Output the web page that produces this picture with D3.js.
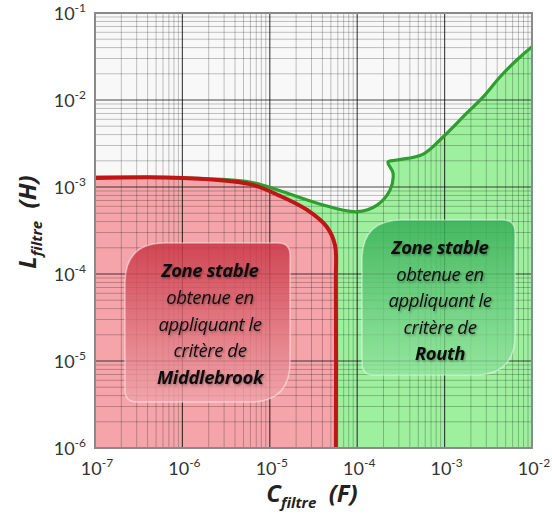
<!DOCTYPE html>
<html><head><meta charset="utf-8">
<script src="https://cdn.jsdelivr.net/npm/d3@7"></script>
<style>body{margin:0;background:#fff}svg{display:block}</style>
</head><body>
<svg id="c" width="552" height="520"></svg>
<script>
// ---- data ----
const xTickExps = [-7, -6, -5, -4, -3, -2];
const yTickExps = [-6, -5, -4, -3, -2, -1];
// Routh stability boundary (green)
const routhC = [1e-7, 1e-6, 5.9e-6, 1.42e-5, 3.5e-5, 1.0e-4, 1.69e-4, 2.37e-4, 2.57e-4, 2.25e-4, 2.85e-4, 5.7e-4, 9.6e-4, 1.8e-3, 2.75e-3, 4.3e-3, 6.7e-3, 1e-2];
const routhL = [1.30e-3, 1.27e-3, 1.14e-3, 8.8e-4, 6.5e-4, 5.2e-4, 6.2e-4, 9.2e-4, 1.45e-3, 1.94e-3, 2.04e-3, 2.39e-3, 3.76e-3, 7.1e-3, 1.08e-2, 1.84e-2, 2.88e-2, 4.1e-2];
// Middlebrook stability boundary (red)
const midC = [1e-7, 1e-6, 5.9e-6, 1.31e-5, 2.67e-5, 4.5e-5, 5.57e-5, 5.7e-5, 5.7e-5];
const midL = [1.27e-3, 1.27e-3, 1.08e-3, 7.9e-4, 5.45e-4, 3.47e-4, 2.15e-4, 8.5e-5, 1e-6];
const midText = [["Zone stable", "bi"], ["obtenue en", "i"], ["appliquant le", "i"], ["critère de", "i"], ["Middlebrook", "bi"]];
const routhText = [["Zone stable", "bi"], ["obtenue en", "i"], ["appliquant le", "i"], ["critère de", "i"], ["Routh", "bi"]];

// ---- layout ----
const L = 95, R = 532, T = 13, B = 448;
const svg = d3.select("#c");
const x = d3.scaleLog().domain([1e-7, 1e-2]).range([L, R]);
const y = d3.scaleLog().domain([1e-6, 1e-1]).range([B, T]);
const font = "'Open Sans', 'Noto Sans', sans-serif";
const tickFont = "Lato, 'Open Sans', sans-serif";

const defs = svg.append("defs");
defs.append("clipPath").attr("id", "clip").append("rect").attr("x", L).attr("y", T).attr("width", R - L).attr("height", B - T);
const gr = defs.append("linearGradient").attr("id", "gRed").attr("x1", 0).attr("y1", 0).attr("x2", 0).attr("y2", 1);
gr.append("stop").attr("offset", 0).attr("stop-color", "#c93444").attr("stop-opacity", 0.85);
gr.append("stop").attr("offset", 1).attr("stop-color", "#f0a4aa").attr("stop-opacity", 0.75);
const gg = defs.append("linearGradient").attr("id", "gGreen").attr("x1", 0).attr("y1", 0).attr("x2", 0).attr("y2", 1);
gg.append("stop").attr("offset", 0).attr("stop-color", "#35ad55").attr("stop-opacity", 0.85);
gg.append("stop").attr("offset", 1).attr("stop-color", "#8fe39c").attr("stop-opacity", 0.75);
const sh = defs.append("filter").attr("id", "tsh").attr("x", "-10%").attr("y", "-20%").attr("width", "130%").attr("height", "150%");
sh.append("feDropShadow").attr("dx", 1).attr("dy", 1.5).attr("stdDeviation", 1).attr("flood-color", "#000").attr("flood-opacity", 0.35);

const plot = svg.append("g").attr("clip-path", "url(#clip)");
plot.append("rect").attr("x", L).attr("y", T).attr("width", R - L).attr("height", B - T).attr("fill", "#f8f8f8");

const routh = routhC.map((c, i) => [c, routhL[i]]);
const mid = midC.map((c, i) => [c, midL[i]]);
const line = d3.line().x(d => x(d[0])).y(d => y(d[1])).curve(d3.curveCatmullRom.alpha(0.5));

// fills
plot.append("path").attr("d", line(routh) + `L${x(1e-2)},${y(1e-6)}L${x(1e-7)},${y(1e-6)}Z`).attr("fill", "#9ef09f");
plot.append("path").attr("d", line(mid) + `L${x(1e-7)},${y(1e-6)}Z`).attr("fill", "#f5a5a9");

// grid
const minorX = [];
for (let e = -7; e < -2; e++) for (let k = 2; k <= 9; k++) minorX.push(k * Math.pow(10, e));
const minorY = [];
for (let e = -6; e < -1; e++) for (let k = 2; k <= 9; k++) minorY.push(k * Math.pow(10, e));
const grid = svg.append("g");
grid.selectAll(".mx").data(minorX).join("line").attr("x1", d => x(d)).attr("x2", d => x(d)).attr("y1", T).attr("y2", B)
  .attr("stroke", "#000").attr("stroke-opacity", 0.24).attr("stroke-width", 1);
grid.selectAll(".my").data(minorY).join("line").attr("y1", d => y(d)).attr("y2", d => y(d)).attr("x1", L).attr("x2", R)
  .attr("stroke", "#000").attr("stroke-opacity", 0.24).attr("stroke-width", 1);
grid.selectAll(".Mx").data(xTickExps).join("line").attr("x1", d => x(Math.pow(10, d))).attr("x2", d => x(Math.pow(10, d))).attr("y1", T).attr("y2", B)
  .attr("stroke", "#000").attr("stroke-opacity", 0.7).attr("stroke-width", 1.2);
grid.selectAll(".My").data(yTickExps).join("line").attr("y1", d => y(Math.pow(10, d))).attr("y2", d => y(Math.pow(10, d))).attr("x1", L).attr("x2", R)
  .attr("stroke", "#000").attr("stroke-opacity", 0.7).attr("stroke-width", 1.2);

// curves
const curves = svg.append("g").attr("clip-path", "url(#clip)");
curves.append("path").attr("d", line(routh)).attr("fill", "none").attr("stroke", "#2e9e2e").attr("stroke-width", 3.2).attr("stroke-linejoin", "round");
curves.append("path").attr("d", line(mid)).attr("fill", "none").attr("stroke", "#c01515").attr("stroke-width", 4).attr("stroke-linejoin", "round");

// frame
svg.append("rect").attr("x", L).attr("y", T).attr("width", R - L).attr("height", B - T).attr("fill", "none").attr("stroke", "#8a8a8a").attr("stroke-width", 2);

// boxes
function box(x0, y0, w, h, rBig, rSmall) {
  const p = d3.path();
  p.moveTo(x0 + rBig, y0);
  p.lineTo(x0 + w - rSmall, y0);
  p.quadraticCurveTo(x0 + w, y0, x0 + w, y0 + rSmall);
  p.lineTo(x0 + w, y0 + h - rBig);
  p.quadraticCurveTo(x0 + w, y0 + h, x0 + w - rBig, y0 + h);
  p.lineTo(x0 + rSmall, y0 + h);
  p.quadraticCurveTo(x0, y0 + h, x0, y0 + h - rSmall);
  p.lineTo(x0, y0 + rBig);
  p.quadraticCurveTo(x0, y0, x0 + rBig, y0);
  p.closePath();
  return p.toString();
}
function drawBox(x0, y0, w, h, grad, lines, cx, ty, dy) {
  svg.append("path").attr("d", box(x0, y0, w, h, 40, 12)).attr("fill", `url(#${grad})`)
    .attr("stroke", "#fff").attr("stroke-opacity", 0.45).attr("stroke-width", 1.5);
  const t = svg.append("g").attr("filter", "url(#tsh)");
  lines.forEach((l, i) => {
    t.append("text").attr("x", cx).attr("y", ty + i * dy).attr("text-anchor", "middle")
      .attr("font-family", font).attr("font-size", 18.5).attr("font-style", "italic").attr("letter-spacing", -0.4)
      .attr("font-weight", l[1] === "bi" ? 700 : 400).attr("fill", "#111").text(l[0]);
  });
}
drawBox(125, 243, 165, 159, "gRed", midText, 210, 277, 26.8);
drawBox(362, 220, 153, 155, "gGreen", routhText, 440, 254, 26.5);

// tick labels
const tl = svg.append("g").attr("font-family", tickFont).attr("fill", "#333");
xTickExps.forEach(e => {
  const t = tl.append("text").attr("x", x(Math.pow(10, e)) + 2).attr("y", 475).attr("text-anchor", "middle").attr("font-size", 18);
  t.append("tspan").text("10");
  t.append("tspan").attr("font-size", 12).attr("dy", -8).text(String(e));
});
yTickExps.forEach(e => {
  const t = tl.append("text").attr("x", 86).attr("y", y(Math.pow(10, e)) + 7).attr("text-anchor", "end").attr("font-size", 18);
  t.append("tspan").text("10");
  t.append("tspan").attr("font-size", 12).attr("dy", -8).text(String(e));
});

// axis titles
const xt = svg.append("text").attr("x", 312).attr("y", 502).attr("text-anchor", "middle").attr("font-family", font)
  .attr("font-style", "italic").attr("font-weight", 700).attr("fill", "#222").attr("font-size", 24);
xt.append("tspan").text("C");
xt.append("tspan").attr("font-size", 15).attr("dy", 6).text("filtre");
xt.append("tspan").attr("dy", -6).text("\u00a0\u00a0(F)");

const yt = svg.append("text").attr("transform", "translate(36,222) rotate(-90)").attr("text-anchor", "middle").attr("font-family", font)
  .attr("font-style", "italic").attr("font-weight", 700).attr("fill", "#222").attr("font-size", 24);
yt.append("tspan").text("L");
yt.append("tspan").attr("font-size", 15).attr("dy", 6).text("filtre");
yt.append("tspan").attr("dy", -6).text("\u00a0\u00a0(H)");
</script>
</body></html>
